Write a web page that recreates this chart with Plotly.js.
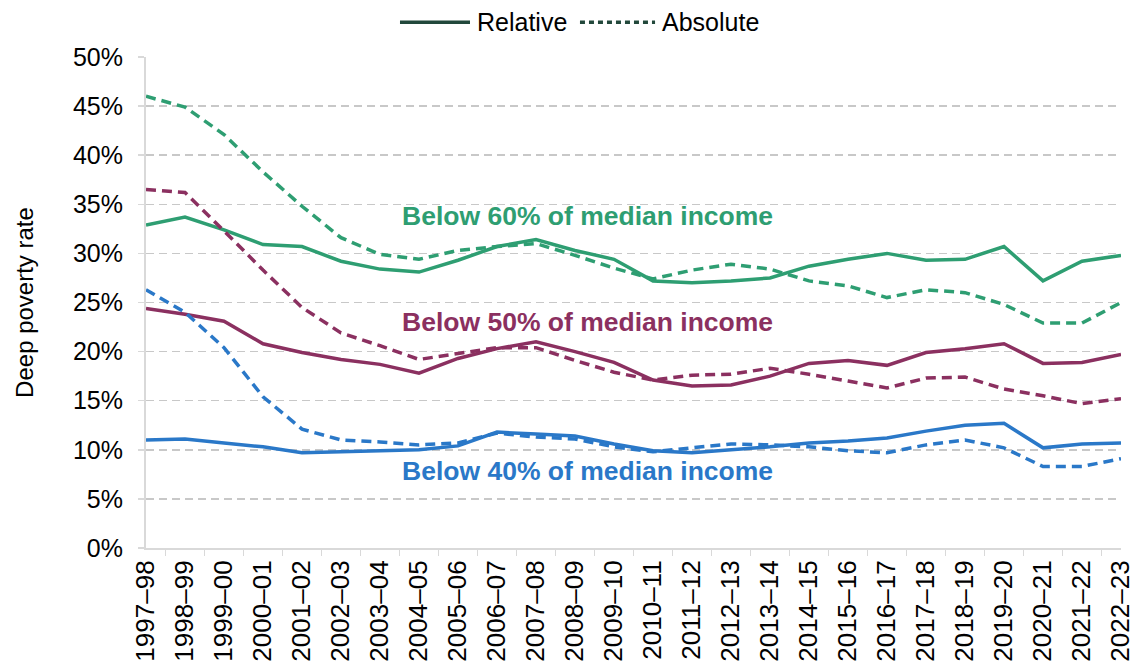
<!DOCTYPE html>
<html>
<head>
<meta charset="utf-8">
<script src="https://cdn.plot.ly/plotly-3.0.1.min.js"></script>
<style>html,body{margin:0;padding:0;background:#fff;}#chart{width:1137px;height:666px;}</style>
</head>
<body>
<div id="chart"></div>
<script>
const years = ['1997–98','1998–99','1999–00','2000–01','2001–02','2002–03','2003–04','2004–05','2005–06','2006–07','2007–08','2008–09','2009–10','2010–11','2011–12','2012–13','2013–14','2014–15','2015–16','2016–17','2017–18','2018–19','2019–20','2020–21','2021–22','2022–23'];

const rel60 = [32.9,33.7,32.4,30.9,30.7,29.2,28.4,28.1,29.3,30.7,31.4,30.3,29.4,27.2,27.0,27.2,27.5,28.7,29.4,30.0,29.3,29.4,30.7,27.2,29.2,29.8];
const abs60 = [46.0,44.9,42.1,38.3,34.8,31.6,29.9,29.4,30.3,30.7,31.0,29.8,28.5,27.4,28.3,28.9,28.4,27.2,26.7,25.5,26.3,26.0,24.8,22.9,22.9,25.0];
const rel50 = [24.4,23.8,23.1,20.8,19.9,19.2,18.7,17.8,19.3,20.3,21.0,20.0,18.9,17.1,16.5,16.6,17.5,18.8,19.1,18.6,19.9,20.3,20.8,18.8,18.9,19.7];
const abs50 = [36.5,36.2,32.3,28.3,24.5,21.9,20.6,19.2,19.8,20.4,20.4,19.1,17.9,17.1,17.6,17.7,18.3,17.7,17.0,16.3,17.3,17.4,16.2,15.5,14.7,15.2];
const rel40 = [11.0,11.1,10.7,10.3,9.7,9.8,9.9,10.0,10.4,11.8,11.6,11.4,10.6,9.9,9.7,10.0,10.3,10.7,10.9,11.2,11.9,12.5,12.7,10.2,10.6,10.7];
const abs40 = [26.3,24.0,20.4,15.4,12.1,11.0,10.8,10.5,10.7,11.7,11.3,11.1,10.3,9.8,10.2,10.6,10.5,10.3,9.9,9.7,10.5,11.0,10.2,8.3,8.3,9.1];

const seriesLabels = ['Below 60% of median income','Below 50% of median income','Below 40% of median income'];
const legendNames = ['Relative','Absolute'];

const GREEN = '#2e9e72', PURPLE = '#8b3060', BLUE = '#2a78c8', DARK = '#22483b';
const LW = 3.5, DASH = '10px,6px';

function line(y, color, dashed, name) {
  return {x: years, y: y, type: 'scatter', mode: 'lines', name: name, showlegend: false, hoverinfo: 'skip',
    line: {color: color, width: LW, dash: dashed ? DASH : 'solid'}};
}

const data = [
  line(abs60, GREEN, true, seriesLabels[0] + ' (' + legendNames[1] + ')'),
  line(rel60, GREEN, false, seriesLabels[0] + ' (' + legendNames[0] + ')'),
  line(abs50, PURPLE, true, seriesLabels[1] + ' (' + legendNames[1] + ')'),
  line(rel50, PURPLE, false, seriesLabels[1] + ' (' + legendNames[0] + ')'),
  line(abs40, BLUE, true, seriesLabels[2] + ' (' + legendNames[1] + ')'),
  line(rel40, BLUE, false, seriesLabels[2] + ' (' + legendNames[0] + ')')
];

const FONT = 'Liberation Sans, Arial, sans-serif';
const LEGY = 1.071;
const layout = {
  width: 1137, height: 666,
  margin: {l: 146, r: 16, t: 57, b: 118},
  paper_bgcolor: '#fff', plot_bgcolor: '#fff',
  font: {family: FONT, size: 25, color: '#000'},
  showlegend: false,
  xaxis: {type: 'category', range: [0, 25], tickangle: -90, showgrid: false,
    showline: true, linecolor: '#d9d9d9', linewidth: 2, ticks: 'outside', ticklen: 6, tickcolor: '#d9d9d9', tickwidth: 1.5,
    tickson: 'boundaries', tickfont: {family: FONT, size: 26, color: '#000'}, zeroline: false, fixedrange: true},
  yaxis: {range: [0, 50], dtick: 5, ticksuffix: '%', showgrid: true, gridcolor: '#c8c8c8', gridwidth: 1.5, griddash: '8px,5px',
    showline: true, linecolor: '#d9d9d9', linewidth: 2, ticks: 'outside', ticklen: 6, tickcolor: '#d9d9d9', tickwidth: 1.5,
    ticklabelstandoff: 10,
    zeroline: false, tickfont: {family: FONT, size: 25, color: '#000'},
    title: {text: 'Deep poverty rate', font: {family: FONT, size: 24, color: '#000'}, standoff: 33}, fixedrange: true},
  shapes: [
    {type: 'line', xref: 'paper', yref: 'paper', x0: 0.2605, x1: 0.3323, y0: LEGY, y1: LEGY, line: {color: DARK, width: 3.5}},
    {type: 'line', xref: 'paper', yref: 'paper', x0: 0.4451, x1: 0.5221, y0: LEGY, y1: LEGY, line: {color: DARK, width: 3.5, dash: '5px,4px'}}
  ],
  annotations: [
    {text: legendNames[0], xref: 'paper', yref: 'paper', x: 0.3374, y: LEGY, xanchor: 'left', yanchor: 'middle', showarrow: false, font: {family: FONT, size: 25, color: '#000'}},
    {text: legendNames[1], xref: 'paper', yref: 'paper', x: 0.5272, y: LEGY, xanchor: 'left', yanchor: 'middle', showarrow: false, font: {family: FONT, size: 25, color: '#000'}},
    {text: '<b>' + seriesLabels[0] + '</b>', xref: 'paper', yref: 'paper', x: 0.260, y: 0.676, xanchor: 'left', yanchor: 'middle', showarrow: false, font: {family: FONT, size: 26.5, color: GREEN}},
    {text: '<b>' + seriesLabels[1] + '</b>', xref: 'paper', yref: 'paper', x: 0.260, y: 0.460, xanchor: 'left', yanchor: 'middle', showarrow: false, font: {family: FONT, size: 26.5, color: PURPLE}},
    {text: '<b>' + seriesLabels[2] + '</b>', xref: 'paper', yref: 'paper', x: 0.260, y: 0.157, xanchor: 'left', yanchor: 'middle', showarrow: false, font: {family: FONT, size: 26.5, color: BLUE}}
  ]
};

Plotly.newPlot('chart', data, layout, {staticPlot: true, displayModeBar: false});
</script>
</body>
</html>
